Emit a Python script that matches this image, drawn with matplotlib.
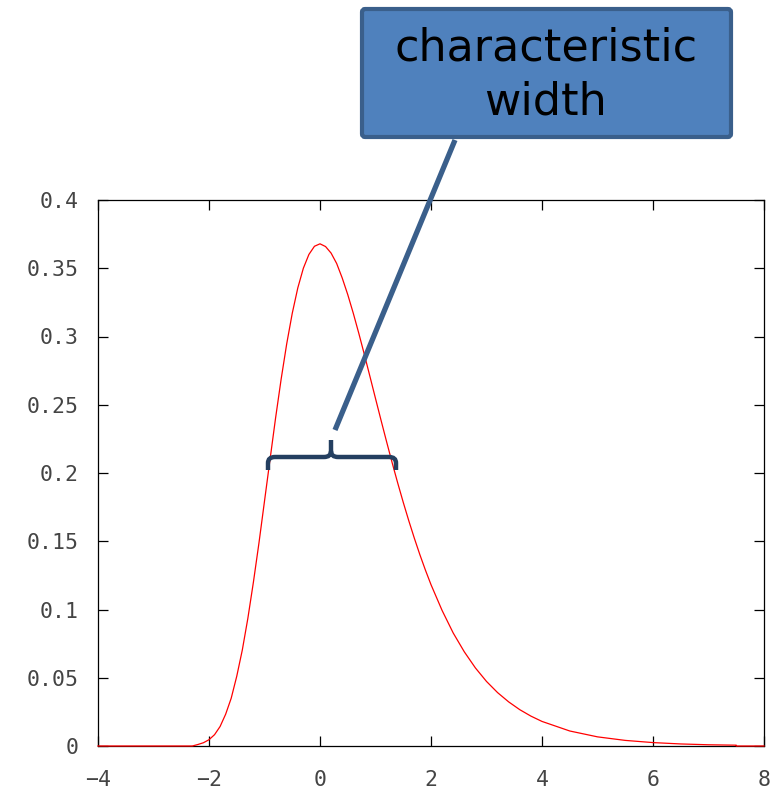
import matplotlib
matplotlib.use("Agg")
import matplotlib.pyplot as plt
from matplotlib.patches import FancyBboxPatch, PathPatch
from matplotlib.path import Path

# curve (x, density)
x_vals = [-4.0, -3.0, -2.3, -2.2, -2.1, -2.0, -1.9, -1.8, -1.7, -1.6, -1.5,
          -1.4, -1.3, -1.2, -1.1, -1.0, -0.9, -0.8, -0.7, -0.6, -0.5, -0.4,
          -0.3, -0.2, -0.1, 0.0, 0.1, 0.2, 0.3, 0.4, 0.5, 0.6, 0.7, 0.8,
          0.9, 1.0, 1.1, 1.2, 1.3, 1.4, 1.5, 1.6, 1.7, 1.8, 1.9, 2.0, 2.2,
          2.4, 2.6, 2.8, 3.0, 3.2, 3.4, 3.6, 3.8, 4.0, 4.5, 5.0, 5.5, 6.0,
          6.5, 7.0, 7.5, 7.5, 8.0]
y_vals = [0.0, 0.0, 0.0, 0.0011, 0.0024, 0.0046, 0.0083, 0.0143, 0.0233,
          0.0350, 0.0511, 0.0703, 0.0935, 0.1200, 0.1487, 0.1794, 0.2100,
          0.2404, 0.2688, 0.2946, 0.3170, 0.3356, 0.3500, 0.3601, 0.3661,
          0.3679, 0.3659, 0.3611, 0.3535, 0.3429, 0.3307, 0.3170, 0.3022,
          0.2867, 0.2707, 0.2546, 0.2386, 0.2229, 0.2075, 0.1927, 0.1785,
          0.1650, 0.1522, 0.1401, 0.1288, 0.1182, 0.0993, 0.0828, 0.0690,
          0.0572, 0.0473, 0.0391, 0.0323, 0.0266, 0.0219, 0.0180, 0.0110,
          0.0067, 0.0041, 0.0025, 0.0015, 0.0009, 0.0006, 0.0, 0.0]

x_ticks = [-4, -2, 0, 2, 4, 6, 8]
y_ticks = [0, 0.05, 0.1, 0.15, 0.2, 0.25, 0.3, 0.35, 0.4]
y_labels = ["0", "0.05", "0.1", "0.15", "0.2", "0.25", "0.3", "0.35", "0.4"]
box_text = "characteristic\nwidth"

W, H = 777, 789


def px(x, y):
    """pixel position (from top-left) -> figure fraction"""
    return x / W, 1 - y / H


fig = plt.figure(figsize=(W / 100, H / 100), dpi=100)
ax = fig.add_axes([98 / W, (H - 746) / H, 666 / W, 546 / H])

ax.plot(x_vals, y_vals, color="#ff0000", linewidth=0.9, zorder=5, clip_on=False)
ax.set_xlim(-4, 8)
ax.set_ylim(0, 0.4)
ax.set_xticks(x_ticks)
ax.set_yticks(y_ticks)
ax.set_yticklabels(y_labels)
ax.tick_params(direction="in", length=7, width=0.9, top=True, right=True,
               labelsize=15.5, labelcolor="#444444")
ax.tick_params(axis="x", pad=17)
ax.tick_params(axis="y", pad=14)
for lab in ax.get_xticklabels() + ax.get_yticklabels():
    lab.set_family("DejaVu Sans Mono")
for sp in ax.spines.values():
    sp.set_linewidth(0.9)

# callout box
x0, y0 = px(362, 137)
x1, y1 = px(731, 9)
box = FancyBboxPatch((x0, y0), x1 - x0, y1 - y0,
                     boxstyle="round,pad=0,rounding_size=0.004",
                     transform=fig.transFigure, facecolor="#4f81bd",
                     edgecolor="#3a5f8b", linewidth=3, zorder=10)
fig.add_artist(box)
tx, ty = px(546, 75)
fig.text(tx, ty, box_text, ha="center", va="center", fontsize=32,
         color="black", linespacing=1.3, zorder=11)

# leader line
lx0, ly0 = px(455, 140)
lx1, ly1 = px(335, 430)
fig.add_artist(plt.Line2D([lx0, lx1], [ly0, ly1], transform=fig.transFigure,
                          color="#3a5f8b", linewidth=3.8,
                          solid_capstyle="butt", zorder=9))

# curly brace
brace_pts = [(268, 470), (268, 463), (268, 457), (275, 457),
             (324, 457), (331, 457), (331, 451), (331, 440),
             (331, 451), (331, 457), (338, 457),
             (389, 457), (396, 457), (396, 463), (396, 470)]
codes = [Path.MOVETO, Path.LINETO, Path.CURVE3, Path.CURVE3,
         Path.LINETO, Path.CURVE3, Path.CURVE3, Path.LINETO,
         Path.MOVETO, Path.CURVE3, Path.CURVE3,
         Path.LINETO, Path.CURVE3, Path.CURVE3, Path.LINETO]
brace = PathPatch(Path([px(a, b) for a, b in brace_pts], codes),
                  transform=fig.transFigure, facecolor="none",
                  edgecolor="#243f60", linewidth=3.2, capstyle="butt",
                  zorder=9)
fig.add_artist(brace)

fig.savefig("out.png", dpi=100)
